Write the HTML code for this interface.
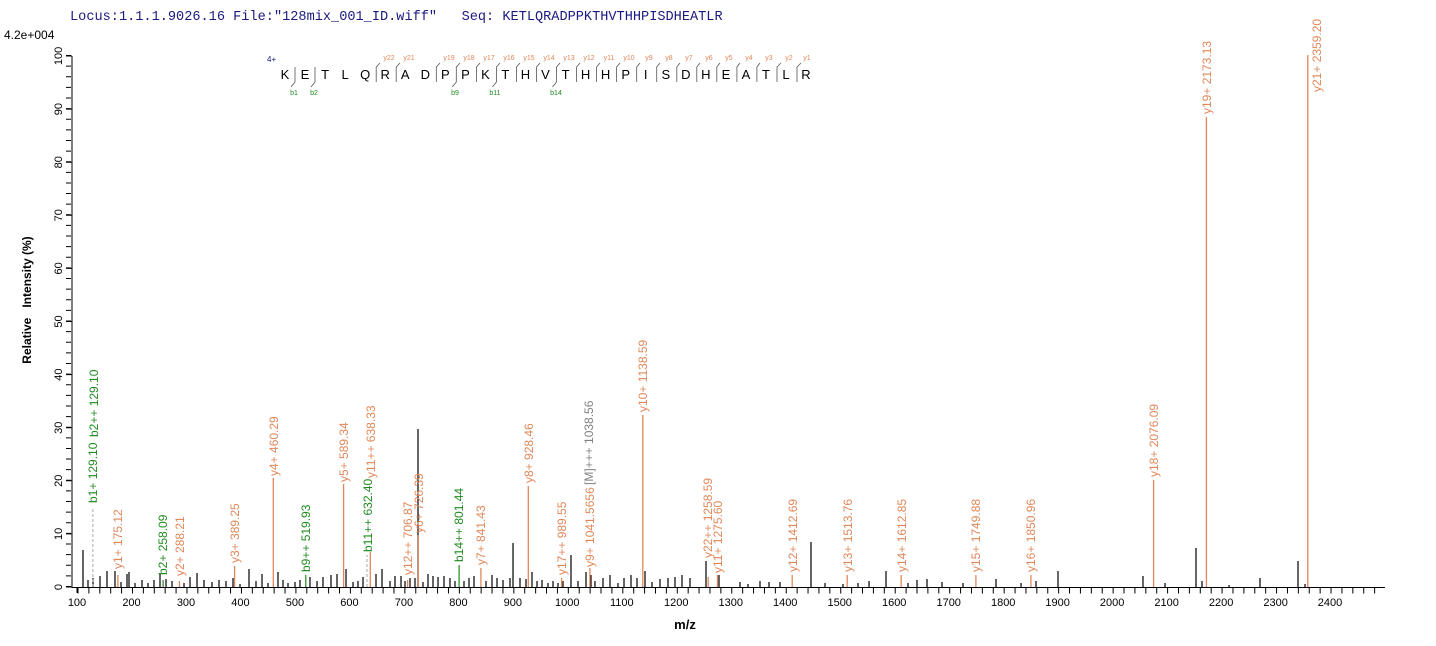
<!DOCTYPE html>
<html><head><meta charset="utf-8"><style>
html,body{margin:0;padding:0;background:#fff;}
svg{display:block;}
text{font-family:"Liberation Sans",Arial,sans-serif;}
.o{fill:#e0875a;font-size:12px;}
.g{fill:#1f8a1f;font-size:12px;}
.gr{fill:#808080;font-size:12px;}
.ol{stroke:#e0875a;stroke-width:1.3;}
.tk{font-size:11px;fill:#000;}
</style></head><body>
<svg width="1436" height="646" viewBox="0 0 1436 646" xmlns="http://www.w3.org/2000/svg">
<text x="70" y="20" style="font-family:'Liberation Mono',monospace;font-size:13.6px;fill:#1a1a80">Locus:1.1.1.9026.16 File:"128mix_001_ID.wiff"&#160;&#160;&#160;Seq: KETLQRADPPKTHVTHHPISDHEATLR</text>
<text x="4" y="39" style="font-size:12px">4.2e+004</text>

<!-- axes -->
<line x1="72" y1="56" x2="72" y2="588" stroke="#000"/>
<line x1="72" y1="587.5" x2="1385" y2="587.5" stroke="#000"/>
<line x1="77" y1="588" x2="77" y2="593" stroke="#000"/>
<path d="M77.5 590.5 H1385" stroke="#000" stroke-width="6" stroke-dasharray="1 9.896" fill="none"/>
<path d="M68.5 587 V55" stroke="#000" stroke-width="5" stroke-dasharray="1 9.62" fill="none"/>
<path d="M66 587H72M66 533.9H72M66 480.8H72M66 427.7H72M66 374.6H72M66 321.5H72M66 268.4H72M66 215.3H72M66 162.2H72M66 109.1H72M66 56H72" stroke="#000"/>

<g class="tk" text-anchor="middle">
<text x="77" y="606">100</text><text x="131.5" y="606">200</text><text x="186" y="606">300</text><text x="240.4" y="606">400</text><text x="294.9" y="606">500</text><text x="349.4" y="606">600</text><text x="403.9" y="606">700</text><text x="458.4" y="606">800</text><text x="512.8" y="606">900</text><text x="567.3" y="606">1000</text><text x="621.8" y="606">1100</text><text x="676.3" y="606">1200</text><text x="730.8" y="606">1300</text><text x="785.2" y="606">1400</text><text x="839.7" y="606">1500</text><text x="894.2" y="606">1600</text><text x="948.7" y="606">1700</text><text x="1003.2" y="606">1800</text><text x="1057.6" y="606">1900</text><text x="1112.1" y="606">2000</text><text x="1166.6" y="606">2100</text><text x="1221.1" y="606">2200</text><text x="1275.6" y="606">2300</text><text x="1330" y="606">2400</text>
</g>
<g class="tk" text-anchor="middle">
<text transform="translate(62,587) rotate(-90)">0</text>
<text transform="translate(62,533.9) rotate(-90)">10</text>
<text transform="translate(62,480.8) rotate(-90)">20</text>
<text transform="translate(62,427.7) rotate(-90)">30</text>
<text transform="translate(62,374.6) rotate(-90)">40</text>
<text transform="translate(62,321.5) rotate(-90)">50</text>
<text transform="translate(62,268.4) rotate(-90)">60</text>
<text transform="translate(62,215.3) rotate(-90)">70</text>
<text transform="translate(62,162.2) rotate(-90)">80</text>
<text transform="translate(62,109.1) rotate(-90)">90</text>
<text transform="translate(62,56) rotate(-90)">100</text>
</g>
<text transform="translate(31,300) rotate(-90)" text-anchor="middle" style="font-size:12px;font-weight:bold">Relative&#160;&#160;&#160;Intensity (%)</text>
<text x="685" y="629" text-anchor="middle" style="font-size:13px;font-weight:bold">m/z</text>

<!-- black peaks -->
<path stroke="#000" stroke-width="1.2" fill="none" d="
M83 587V550 M88 587V580 M93 587V578 M100 587V576 M107 587V571 M115 587V571 M121 587V582 M127 587V574 M129 587V572 M135 587V583 M142 587V580 M148 587V583 M154 587V580 M160 587V574 M166 587V579 M172 587V581 M184 587V583 M190 587V577 M197 587V573 M204 587V580 M212 587V582 M219 587V580 M226 587V581 M233 587V578 M240 587V584 M249 587V569 M256 587V581 M262 587V574 M268 587V583 M278 587V572 M283 587V580 M288 587V583 M295 587V582 M300 587V580 M310 587V577 M317 587V581 M323 587V577 M331 587V575 M337 587V574 M346 587V569 M353 587V582 M358 587V581 M363 587V577 M376 587V574 M382 587V569 M390 587V581 M395 587V576 M401 587V576 M405 587V581 M410 587V578 M415 587V578 M418 587V429 M423 587V582 M428 587V574 M433 587V576 M438 587V577 M444 587V576 M450 587V578 M455 587V581 M464 587V581 M469 587V578 M474 587V576 M486 587V581 M492 587V575 M497 587V578 M503 587V580 M510 587V578 M513 587V543 M520 587V578 M526 587V579 M532 587V572 M537 587V581 M542 587V580 M548 587V583 M553 587V581 M558 587V583 M563 587V581 M571 587V555 M578 587V581 M586 587V572 M591 587V575 M595 587V581 M603 587V578 M610 587V575 M618 587V583 M624 587V578 M631 587V575 M637 587V578 M645 587V571 M652 587V582 M660 587V579 M668 587V578 M675 587V577 M682 587V575 M690 587V578 M706 587V561 M719 587V575 M740 587V582 M748 587V584 M760 587V581 M769 587V582 M780 587V582 M811 587V542 M825 587V583 M843 587V584 M858 587V583 M869 587V581 M886 587V571 M908 587V583 M917 587V580 M927 587V579 M942 587V582 M963 587V583 M996 587V579 M1021 587V583 M1036 587V581 M1058 587V571 M1143 587V576 M1165 587V583 M1196 587V548 M1202 587V581 M1229 587V585 M1260 587V578 M1298 587V561 M1305 587V584"/>

<!-- annotated lines -->
<g class="ol">
<line x1="117.9" y1="587" x2="117.9" y2="575"/>
<line x1="179.5" y1="587" x2="179.5" y2="581"/>
<line x1="234.6" y1="587" x2="234.6" y2="566"/>
<line x1="273.3" y1="587" x2="273.3" y2="478"/>
<line x1="343.6" y1="587" x2="343.6" y2="484"/>
<line x1="370.3" y1="587" x2="370.3" y2="552"/>
<line x1="407.6" y1="587" x2="407.6" y2="580"/>
<line x1="418.3" y1="587" x2="418.3" y2="535"/>
<line x1="480.9" y1="587" x2="480.9" y2="568"/>
<line x1="528.3" y1="587" x2="528.3" y2="486"/>
<line x1="561.6" y1="587" x2="561.6" y2="578"/>
<line x1="589.9" y1="587" x2="589.9" y2="568"/>
<line x1="642.8" y1="587" x2="642.8" y2="415"/>
<line x1="708.2" y1="587" x2="708.2" y2="577"/>
<line x1="717.5" y1="587" x2="717.5" y2="575"/>
<line x1="792.2" y1="587" x2="792.2" y2="575"/>
<line x1="847.2" y1="587" x2="847.2" y2="575"/>
<line x1="901.2" y1="587" x2="901.2" y2="575"/>
<line x1="975.9" y1="587" x2="975.9" y2="575"/>
<line x1="1030.9" y1="587" x2="1030.9" y2="575"/>
<line x1="1153.6" y1="587" x2="1153.6" y2="480"/>
<line x1="1206.4" y1="587" x2="1206.4" y2="117"/>
<line x1="1307.8" y1="587" x2="1307.8" y2="55"/>
</g>
<g stroke="#1f8a1f" stroke-width="1.2">
<line x1="163.1" y1="587" x2="163.1" y2="580"/>
<line x1="305.8" y1="587" x2="305.8" y2="575"/>
<line x1="459.1" y1="587" x2="459.1" y2="565"/>
</g>
<g stroke="#aaa" stroke-dasharray="3 2">
<line x1="92.9" y1="587" x2="92.9" y2="507"/>
<line x1="367" y1="587" x2="367" y2="555"/>
</g>

<!-- labels -->
<g>
<text class="g" transform="translate(97,503) rotate(-90)">b1+ 129.10</text>
<text class="g" transform="translate(98,437) rotate(-90)">b2++ 129.10</text>
<text class="o" transform="translate(122,569) rotate(-90)">y1+ 175.12</text>
<text class="g" transform="translate(167,575) rotate(-90)">b2+ 258.09</text>
<text class="o" transform="translate(184,576) rotate(-90)">y2+ 288.21</text>
<text class="o" transform="translate(239,563) rotate(-90)">y3+ 389.25</text>
<text class="o" transform="translate(278,476) rotate(-90)">y4+ 460.29</text>
<text class="g" transform="translate(310,572) rotate(-90)">b9++ 519.93</text>
<text class="o" transform="translate(348,482) rotate(-90)">y5+ 589.34</text>
<text class="g" transform="translate(372,552) rotate(-90)">b11++ 632.40</text>
<text class="o" transform="translate(375,478) rotate(-90)">y11++ 638.33</text>
<text class="o" transform="translate(412,575) rotate(-90)">y12++ 706.87</text>
<text class="o" transform="translate(423,533) rotate(-90)">y6+ 726.39</text>
<text class="g" transform="translate(463,562) rotate(-90)">b14++ 801.44</text>
<text class="o" transform="translate(485,565) rotate(-90)">y7+ 841.43</text>
<text class="o" transform="translate(533,483) rotate(-90)">y8+ 928.46</text>
<text class="o" transform="translate(566,575) rotate(-90)">y17++ 989.55</text>
<text class="gr" transform="translate(593,485) rotate(-90)">[M]+++ 1038.56</text>
<text class="o" transform="translate(594,567) rotate(-90)">y9+ 1041.5656</text>
<text class="o" transform="translate(647,412) rotate(-90)">y10+ 1138.59</text>
<text class="o" transform="translate(712,558) rotate(-90)">y22++ 1258.59</text>
<text class="o" transform="translate(722,573) rotate(-90)">y11+ 1275.60</text>
<text class="o" transform="translate(797,572) rotate(-90)">y12+ 1412.69</text>
<text class="o" transform="translate(852,572) rotate(-90)">y13+ 1513.76</text>
<text class="o" transform="translate(906,572) rotate(-90)">y14+ 1612.85</text>
<text class="o" transform="translate(980,572) rotate(-90)">y15+ 1749.88</text>
<text class="o" transform="translate(1035,572) rotate(-90)">y16+ 1850.96</text>
<text class="o" transform="translate(1158,477) rotate(-90)">y18+ 2076.09</text>
<text class="o" transform="translate(1211,114) rotate(-90)">y19+ 2173.13</text>
<text class="o" transform="translate(1321,92) rotate(-90)">y21+ 2359.20</text>
</g>

<!-- sequence -->
<text x="267" y="62" style="font-size:8px;fill:#1a1a80">4+</text>
<g style="font-size:13px" text-anchor="middle">
<text x="285" y="79">K</text><text x="305" y="79">E</text><text x="325.1" y="79">T</text><text x="345.1" y="79">L</text><text x="365.2" y="79">Q</text><text x="385.2" y="79">R</text><text x="405.2" y="79">A</text><text x="425.3" y="79">D</text><text x="445.3" y="79">P</text><text x="465.4" y="79">P</text><text x="485.4" y="79">K</text><text x="505.4" y="79">T</text><text x="525.5" y="79">H</text><text x="545.5" y="79">V</text><text x="565.6" y="79">T</text><text x="585.6" y="79">H</text><text x="605.6" y="79">H</text><text x="625.7" y="79">P</text><text x="645.7" y="79">I</text><text x="665.8" y="79">S</text><text x="685.8" y="79">D</text><text x="705.8" y="79">H</text><text x="725.9" y="79">E</text><text x="745.9" y="79">A</text><text x="766" y="79">T</text><text x="786" y="79">L</text><text x="806" y="79">R</text>
</g>
<path stroke="#555" stroke-width="0.8" fill="none" d="
M376.2 82V67L380 63 M396.2 82V67L400 63
M436.3 82V67L440 63 M456.3 82V67L460 63 M476.4 82V67L480 63 M496.4 82V67L500 63 M516.4 82V67L520 63 M536.5 82V67L540 63 M556.5 82V67L560 63 M576.6 82V67L580 63 M596.6 82V67L600 63 M616.6 82V67L620 63 M636.7 82V67L640 63 M656.7 82V67L660 63 M676.8 82V67L680 63 M696.8 82V67L700 63 M716.8 82V67L720 63 M736.9 82V67L740 63 M756.9 82V67L760 63 M777 82V67L781 63 M797 82V67L801 63
M295 67V82L291 87 M315 67V82L311 87 M456.3 67V82L452.3 87 M496.4 67V82L492.4 87 M556.5 67V82L552.5 87"/>
<g style="font-size:7px;fill:#e0875a" text-anchor="middle">
<text x="389" y="60">y22</text><text x="409" y="60">y21</text><text x="449" y="60">y19</text><text x="469" y="60">y18</text><text x="489" y="60">y17</text><text x="509" y="60">y16</text><text x="529" y="60">y15</text><text x="549" y="60">y14</text><text x="569" y="60">y13</text><text x="589" y="60">y12</text><text x="609" y="60">y11</text><text x="629" y="60">y10</text><text x="649" y="60">y9</text><text x="669" y="60">y8</text><text x="689" y="60">y7</text><text x="709" y="60">y6</text><text x="729" y="60">y5</text><text x="749" y="60">y4</text><text x="769" y="60">y3</text><text x="789" y="60">y2</text><text x="807" y="60">y1</text>
</g>
<g style="font-size:7px;fill:#1f8a1f" text-anchor="middle">
<text x="294" y="95">b1</text><text x="314" y="95">b2</text><text x="455" y="95">b9</text><text x="495" y="95">b11</text><text x="556" y="95">b14</text>
</g>
</svg>
</body></html>
